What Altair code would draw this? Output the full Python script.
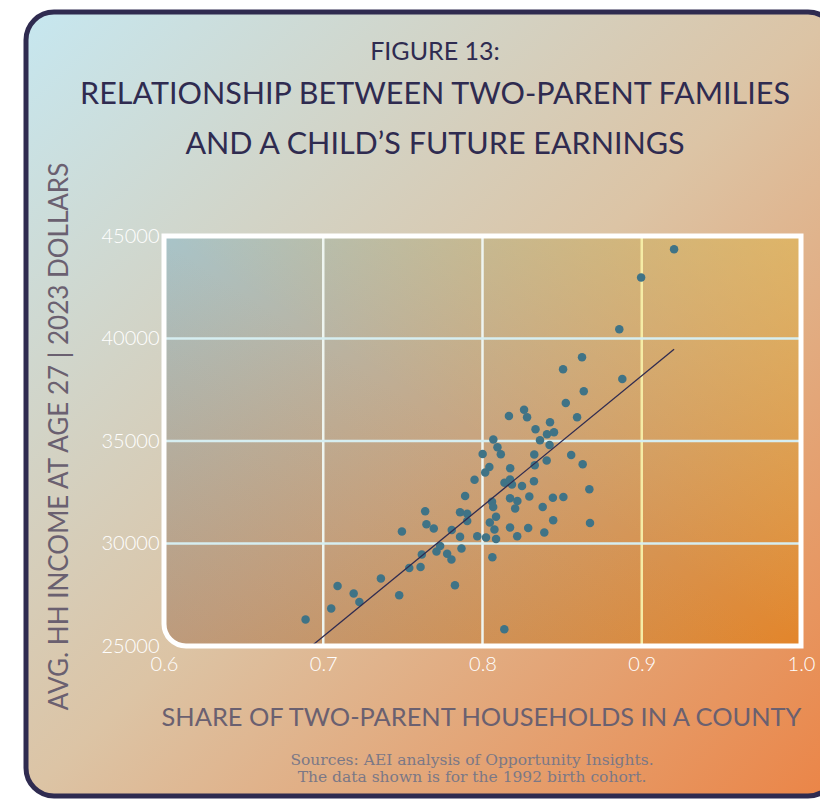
import altair as alt
import pandas as pd

# ---- data ----
SHARE = [0.6889, 0.7050, 0.7090, 0.7191, 0.7227, 0.7362, 0.7477, 0.7494, 0.7540, 0.7611,
         0.7619, 0.7640, 0.7648, 0.7694, 0.7711, 0.7734, 0.7778, 0.7805, 0.7807, 0.7827,
         0.7859, 0.7859, 0.7868, 0.7891, 0.7904, 0.7904, 0.7950, 0.7967, 0.8001, 0.8017,
         0.8022, 0.8043, 0.8046, 0.8060, 0.8067, 0.8062, 0.8068, 0.8094, 0.8115, 0.8075,
         0.8085, 0.8085, 0.8137, 0.8138, 0.8166, 0.8174, 0.8173, 0.8185, 0.8173, 0.8173,
         0.8205, 0.8219, 0.8218, 0.8248, 0.8261, 0.8280, 0.8287, 0.8294, 0.8323, 0.8325,
         0.8328, 0.8333, 0.8361, 0.8378, 0.8388, 0.8403, 0.8405, 0.8421, 0.8424, 0.8442,
         0.8444, 0.8449, 0.8506, 0.8508, 0.8523, 0.8557, 0.8594, 0.8625, 0.8629, 0.8636,
         0.8671, 0.8675, 0.8859, 0.8878, 0.8996, 0.9203]
INCOME = [26293, 26829, 27927, 27566, 27151, 28298, 27478, 30585, 28810, 28859,
          29463, 31576, 30941, 30737, 29610, 29878, 29502, 29224, 30659, 27966,
          31527, 30332, 29761, 32322, 31454, 31098, 33107, 30356, 34366, 33463,
          30293, 33732, 31020, 32034, 31785, 29332, 35073, 34698, 34356, 30688,
          31307, 30224, 25820, 32966, 36219, 33673, 33127, 32878, 32210, 30785,
          31707, 32078, 30356, 32810, 36527, 36161, 30756, 32293, 33039, 34341,
          33819, 35576, 35039, 31785, 30541, 34049, 35332, 34805, 35917, 32234,
          31137, 35429, 38502, 32268, 36859, 34317, 36161, 39088, 33868, 37429,
          32649, 31000, 40454, 38029, 42975, 44356]

X_TICKS = [0.6, 0.7, 0.8, 0.9, 1.0]
Y_TICKS = [25000, 30000, 35000, 40000, 45000]
X_GRID = [0.7, 0.8, 0.9]
Y_GRID = [30000, 35000, 40000]

TITLE_LINES = ["FIGURE 13:",
               "RELATIONSHIP BETWEEN TWO-PARENT FAMILIES",
               "AND A CHILD\u2019S FUTURE EARNINGS"]
X_TITLE = "SHARE OF TWO-PARENT HOUSEHOLDS IN A COUNTY"
Y_TITLE = "AVG. HH INCOME AT AGE 27 | 2023 DOLLARS"
SOURCE_LINES = ["Sources: AEI analysis of Opportunity Insights.",
                "The data shown is for the 1992 birth cohort."]

W, H = 637, 410
NAVY = "#2f2b50"
AXIS_TEXT = "#6a6070"

df = pd.DataFrame({"share": SHARE, "income": INCOME})
one = pd.DataFrame({"k": [0]})

xs = alt.Scale(domain=[0.6, 1.0], nice=False, zero=False)
ys = alt.Scale(domain=[25000, 45000], nice=False, zero=False)

card = alt.Chart(one).mark_rect(
    fill=alt.LinearGradient(gradient="linear", x1=0, y1=0, x2=1, y2=1, stops=[
        alt.GradientStop(offset=0, color="#c6e7f0"),
        alt.GradientStop(offset=0.5, color="#dcc4a5"),
        alt.GradientStop(offset=1, color="#eb8446")]),
    stroke=NAVY, strokeWidth=5, cornerRadius=28,
).encode(x=alt.value(-138), x2=alt.value(672), y=alt.value(-224), y2=alt.value(560))

plot_bg = alt.Chart(one).mark_rect(
    fill=alt.LinearGradient(gradient="linear", x1=0, y1=0, x2=1, y2=1, stops=[
        alt.GradientStop(offset=0, color="#a8c4c9"),
        alt.GradientStop(offset=0.5, color="#c9a47e"),
        alt.GradientStop(offset=1, color="#e3852a")]),
    cornerRadiusBottomLeft=22,
).encode(x=alt.value(0), x2=alt.value(W), y=alt.value(0), y2=alt.value(H))

plot_overlay = alt.Chart(one).mark_rect(
    fill=alt.LinearGradient(gradient="linear", x1=1, y1=0, x2=0, y2=1, stops=[
        alt.GradientStop(offset=0, color="rgba(255,205,70,0.40)"),
        alt.GradientStop(offset=0.5, color="rgba(255,205,70,0)"),
        alt.GradientStop(offset=0.5001, color="rgba(120,100,110,0)"),
        alt.GradientStop(offset=1, color="rgba(120,100,110,0.15)")]),
    cornerRadiusBottomLeft=22,
).encode(x=alt.value(0), x2=alt.value(W), y=alt.value(0), y2=alt.value(H))

vgrid = alt.Chart(pd.DataFrame({"v": X_GRID})).mark_rule(strokeWidth=2.5).encode(
    x=alt.X("v:Q", scale=xs),
    color=alt.condition(alt.datum.v > 0.85, alt.value("#f5eca6"), alt.value("#eef5f0")),
)
hgrid = alt.Chart(pd.DataFrame({"v": Y_GRID})).mark_rule(strokeWidth=2.5, color="#d6eef1").encode(
    y=alt.Y("v:Q", scale=ys),
)

points = alt.Chart(df).mark_circle(size=72, color="#3f7386", opacity=1).encode(
    x=alt.X("share:Q", scale=xs, axis=alt.Axis(
        values=X_TICKS, format=".1f", grid=False, domain=False, ticks=False,
        labelColor="white", labelFont="Lato", labelFontSize=20, labelFontWeight=300,
        labelPadding=8, labelFlush=False, zindex=1,
        title=X_TITLE, titleFont="Lato", titleFontSize=25.4, titleFontWeight=400,
        titleColor=AXIS_TEXT, titleX=317, titleY=71, titleAlign="center",
        titleBaseline="middle")),
    y=alt.Y("income:Q", scale=ys, axis=alt.Axis(
        values=Y_TICKS, format="d", grid=False, domain=False, ticks=False,
        labelColor="white", labelFont="Lato", labelFontSize=20, labelFontWeight=300,
        labelPadding=5, labelFlush=False, zindex=1,
        title=Y_TITLE, titleFont="Lato", titleFontSize=26, titleFontWeight=400,
        titleColor=AXIS_TEXT, titleAngle=270, titleX=-105, titleY=200,
        titleAlign="center", titleBaseline="middle")),
)

fit = alt.Chart(df).transform_regression("share", "income").mark_line(
    color=NAVY, strokeWidth=1.3, clip=True
).encode(x=alt.X("share:Q", scale=xs), y=alt.Y("income:Q", scale=ys))

border = alt.Chart(one).mark_rect(
    fillOpacity=0, stroke="white", strokeWidth=5, cornerRadiusBottomLeft=22,
).encode(x=alt.value(0), x2=alt.value(W), y=alt.value(0), y2=alt.value(H))


def text_layer(txt, x, y, size, color, font="Lato", weight=400):
    return alt.Chart(pd.DataFrame({"t": [txt]})).mark_text(
        font=font, fontSize=size, fontWeight=weight, color=color,
        align="center", baseline="middle",
    ).encode(text="t:N", x=alt.value(x), y=alt.value(y))


titles = [
    text_layer(TITLE_LINES[0], 271, -184, 25, NAVY),
    text_layer(TITLE_LINES[1], 271, -141, 30.5, NAVY),
    text_layer(TITLE_LINES[2], 271, -91, 30.5, NAVY),
    text_layer(SOURCE_LINES[0], 308, 524, 15.5, "#7b7886", font="DejaVu Serif"),
    text_layer(SOURCE_LINES[1], 308, 541, 15.5, "#7b7886", font="DejaVu Serif"),
]

chart = alt.layer(card, plot_bg, plot_overlay, vgrid, hgrid, points, fit, border, *titles).properties(
    width=W, height=H,
    padding={"left": 156, "top": 228, "right": 19, "bottom": 153},
    autosize=alt.AutoSizeParams(type="none"),
).configure_view(stroke=None)

chart.save("out.html", embed_options={"renderer": "svg", "actions": False})
